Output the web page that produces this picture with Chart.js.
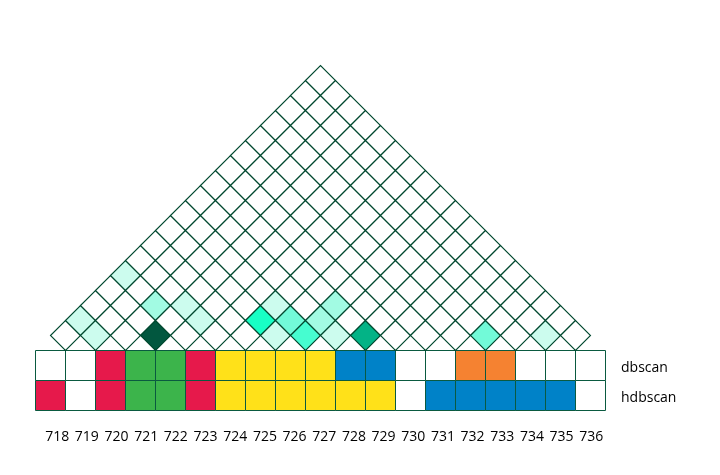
<!DOCTYPE html>
<html><head><meta charset="utf-8">
<script src="https://cdn.jsdelivr.net/npm/chart.js@4"></script>
<style>html,body{margin:0;padding:0;background:#fff}</style>
</head><body>
<canvas id="c" width="720" height="475"></canvas>
<script>
// ---- data ----
const categories = ['718','719','720','721','722','723','724','725','726','727','728','729','730','731','732','733','734','735','736'];
const seriesNames = ['dbscan', 'hdbscan'];
// cluster id per category (-1 = noise / no cluster)
const dbscan  = [-1, -1, 0, 1, 1, 0, 2, 2, 2, 2, 3, 3, -1, -1, 4, 4, -1, -1, -1];
const hdbscan = [ 0, -1, 0, 1, 1, 0, 2, 2, 2, 2, 2, 2, -1, 3, 3, 3, 3, 3, -1];
const clusterColors = ['#e6194b', '#3cb44b', '#ffe119', '#0082c8', '#f58231'];
// pairwise intensity levels (all other pairs are 0)
const pairFrom  = ['718','719','718','720','721','721','722','724','724','725','725','726','726','726','727','728','732','734'];
const pairTo    = ['720','720','723','723','722','724','724','726','727','726','727','727','728','729','728','729','733','735'];
const pairLevel = [  1,    1,    1,    2,    7,    1,    1,    5,    1,    1,    3,    4,    2,    2,    1,    6,    3,    1 ];
const levelColors = ['#ffffff','#ccfcee','#a2fbe3','#72fad8','#46fdd0','#18ffc5','#03b386','#02573f'];

// ---- build datasets ----
const levelOf = {};
pairFrom.forEach((a, k) => { levelOf[a + '-' + pairTo[k]] = pairLevel[k]; });
const diamondPts = [], diamondCols = [];
for (let i = 0; i < categories.length; i++) {
  for (let j = i + 1; j < categories.length; j++) {
    diamondPts.push({x: (i + j) / 2, y: j - i});
    const lv = levelOf[categories[i] + '-' + categories[j]] || 0;
    diamondCols.push(levelColors[lv]);
  }
}
const rowY = [-1, -3];
function rowDataset(ids, yv) {
  return {
    data: ids.map((_, i) => ({x: i, y: yv})),
    backgroundColor: ids.map(c => c < 0 ? '#ffffff' : clusterColors[c]),
    borderColor: '#0a5a40', borderWidth: 1,
    pointStyle: 'rect',
    pointRadius: (ctx) => { const s = ctx.chart.scales.x; return Math.abs(s.getPixelForValue(1) - s.getPixelForValue(0)) / 2 * Math.SQRT2; },
    clip: false, xAxisID: 'x', yAxisID: 'y'
  };
}
const diamonds = {
  data: diamondPts, backgroundColor: diamondCols,
  borderColor: '#00482f', borderWidth: 1.1, pointStyle: 'rectRot',
  pointRadius: (ctx) => { const s = ctx.chart.scales.x; return Math.abs(s.getPixelForValue(1) - s.getPixelForValue(0)) / 2; },
  clip: false, xAxisID: 'x', yAxisID: 'y'
};

const font = {family: "'Open Sans', 'Noto Sans', sans-serif", size: 14};
new Chart(document.getElementById('c'), {
  type: 'scatter',
  data: {datasets: [diamonds, rowDataset(dbscan, rowY[0]), rowDataset(hdbscan, rowY[1])]},
  options: {
    responsive: false, animation: false, events: [],
    layout: {padding: {left: 35.5, top: 65.5, right: 0, bottom: 0}},
    plugins: {legend: {display: false}, tooltip: {enabled: false}},
    scales: {
      x: {type: 'linear', min: -0.5, max: 18.5, display: false},
      y: {type: 'linear', min: -4, max: 19, display: false},
      xl: {
        type: 'linear', axis: 'x', position: 'bottom', min: -0.731, max: 18.48,
        grid: {display: false}, border: {display: false},
        ticks: {autoSkip: false, maxRotation: 0, padding: 10, font: font, color: '#000',
                callback: (v) => categories[v]},
        afterBuildTicks: (s) => { s.ticks = categories.map((_, i) => ({value: i})); },
        afterFit: (s) => { s.height = 64.5; }
      },
      yl: {
        type: 'linear', axis: 'y', position: 'right', min: -3.833, max: 19.167,
        grid: {display: false}, border: {display: false},
        ticks: {autoSkip: false, padding: 7.5, font: font, color: '#000',
                callback: (v) => seriesNames[rowY.indexOf(v)]},
        afterBuildTicks: (s) => { s.ticks = rowY.map(v => ({value: v})); },
        afterFit: (s) => { s.width = 114.5; }
      }
    }
  }
});
</script>
</body></html>
